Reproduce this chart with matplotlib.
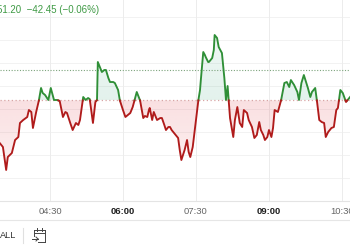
import numpy as np
import matplotlib
matplotlib.use('Agg')
import matplotlib.pyplot as plt
from matplotlib.path import Path
from matplotlib.lines import Line2D

plt.rcParams['font.family'] = ['Liberation Sans', 'DejaVu Sans']

# 数据（分钟数，自 00:00 起）
times = [208, 212, 216, 218, 223, 227, 231, 233, 237, 242, 244, 247, 249, 253, 256, 259, 261, 264,
         268, 271, 275, 279, 282, 286, 289, 291, 295, 298, 302, 305, 307, 311, 314, 317, 319, 323,
         326, 328, 329, 332, 334, 337, 339, 342, 344, 348, 350, 354, 356, 360, 363, 366, 369, 372,
         377, 381, 385, 387, 390, 392, 393, 396, 398, 402, 406, 408, 411, 413, 416, 418, 420, 423,
         425, 428, 430, 432, 434, 436, 439, 441, 443, 446, 450, 453, 455, 456, 459, 461, 462, 465,
         466, 470, 472, 473, 476, 478, 482, 485, 487, 489, 492, 496, 498, 501, 504, 507, 509, 513,
         515, 519, 522, 525, 528, 530, 533, 535, 538, 540, 543, 545, 547, 551, 555, 559, 562, 565,
         567, 571, 575, 577, 580, 583, 586, 588, 591, 593, 597, 599, 602, 605, 608, 610, 613, 617,
         620, 623, 625, 628, 631, 635, 637, 640]
prices = [70701.1, 70692.4, 70642.4, 70670.6, 70679.3, 70707.6, 70714.1, 70744.6, 70751.1, 70757.6,
          70772.8, 70768.5, 70733.7, 70768.5, 70790.2, 70820.7, 70809.8, 70805.4, 70794.6, 70820.7,
          70794.6, 70794.6, 70792.4, 70757.6, 70768.5, 70766.3, 70744.6, 70729.3, 70744.6, 70740.2,
          70751.1, 70801.1, 70794.6, 70798.9, 70796.7, 70744.6, 70790.2, 70794.6, 70877.2, 70864.1,
          70855.4, 70859.8, 70859.8, 70842.4, 70833.7, 70833.7, 70831.5, 70816.3, 70794.6, 70772.8,
          70757.6, 70762.0, 70766.3, 70779.3, 70812.0, 70794.6, 70755.4, 70759.8, 70757.6, 70772.8,
          70777.2, 70751.1, 70768.5, 70751.1, 70755.4, 70755.4, 70740.2, 70729.3, 70735.9, 70735.9,
          70729.3, 70722.8, 70718.5, 70712.0, 70685.9, 70664.1, 70675.0, 70685.9, 70707.6, 70681.5,
          70670.6, 70692.4, 70751.1, 70794.6, 70816.3, 70838.0, 70898.9, 70892.4, 70888.0, 70877.2,
          70877.2, 70885.9, 70903.3, 70935.9, 70929.4, 70909.8, 70896.7, 70842.4, 70794.6, 70825.0,
          70755.4, 70714.1, 70751.1, 70779.3, 70744.6, 70735.9, 70772.8, 70766.3, 70751.1, 70735.9,
          70712.0, 70718.5, 70746.7, 70729.3, 70718.5, 70707.6, 70714.1, 70729.3, 70714.1, 70733.7,
          70772.8, 70768.5, 70794.6, 70831.5, 70833.7, 70822.8, 70838.0, 70827.2, 70812.0, 70794.6,
          70831.5, 70848.9, 70831.5, 70820.7, 70801.1, 70812.0, 70820.7, 70794.6, 70751.1, 70746.7,
          70744.6, 70714.1, 70725.0, 70733.7, 70735.9, 70772.8, 70777.2, 70816.3, 70809.8, 70790.2,
          70794.6, 70801.1]
prev_close = 70793.65
open_level = 70860.0
tick_pos = [270, 360, 450, 540, 630]
tick_labels = ['04:30', '06:00', '07:30', '09:00', '10:30']
tick_bold = [False, True, False, True, False]
header = '51.20  \u221242.45 (\u22120.06%)'

GREEN = '#2f8f37'
RED = '#b01b1b'

W, H = 350, 250
fig = plt.figure(figsize=(W / 100, H / 100), dpi=100)
fig.patch.set_facecolor('white')

def px(x, y):
    return x / W, 1 - y / H

ax_bottom = 201
ax = fig.add_axes([0, 1 - ax_bottom / H, 1, ax_bottom / H])
ax.set_xlim(208.4, 639.9)
ax.set_ylim(70575, 71012)

# 网格
for yv in np.arange(70625, 71012, 50):
    ax.axhline(yv, color='#f2f2f2', lw=0.7, zorder=0)
for xv in tick_pos:
    ax.axvline(xv, color='#ececec', lw=0.7, zorder=0)

# 在穿越基准线处插值，使两段颜色衔接
t = np.array(times, float)
v = np.array(prices, float)
tt, vv = [t[0]], [v[0]]
for i in range(1, len(t)):
    a, b = v[i - 1] - prev_close, v[i] - prev_close
    if a * b < 0:
        f = a / (a - b)
        tt.append(t[i - 1] + f * (t[i] - t[i - 1]))
        vv.append(prev_close)
    tt.append(t[i])
    vv.append(v[i])
tt = np.array(tt)
vv = np.array(vv)

def gradient_fill(mask, color, a_near, a_far, y_far):
    coll = ax.fill_between(tt, vv, prev_close, where=mask, interpolate=True,
                           facecolor='none', edgecolor='none')
    paths = coll.get_paths()
    if not paths:
        return
    comp = Path.make_compound_path(*paths)
    rgb = matplotlib.colors.to_rgb(color)
    n = 200
    img = np.zeros((n, 1, 4))
    img[:, 0, :3] = rgb
    img[:, 0, 3] = np.linspace(a_near, a_far, n)
    im = ax.imshow(img, extent=[tt[0], tt[-1], prev_close, y_far],
                   origin='lower', aspect='auto', zorder=1, interpolation='bilinear')
    im.set_clip_path(comp, ax.transData)

gradient_fill(vv >= prev_close, '#4fae8a', 0.16, 0.05, 71012)
gradient_fill(vv <= prev_close, '#e0454f', 0.17, 0.04, 70575)
ax.set_xlim(208.4, 639.9)
ax.set_ylim(70575, 71012)

# 基准线
ax.axhline(prev_close, color='#d8a5a5', lw=0.9, ls=(0, (1, 2)), zorder=2)
ax.axhline(open_level, color='#7da47d', lw=0.8, ls=(0, (1, 1.5)), zorder=2)

green = np.where(vv >= prev_close, vv, np.nan)
red = np.where(vv <= prev_close, vv, np.nan)
ax.plot(tt, green, color=GREEN, lw=1.35, zorder=3, solid_joinstyle='round')
ax.plot(tt, red, color=RED, lw=1.35, zorder=3, solid_joinstyle='round')

# 坐标轴
for s in ['top', 'left', 'right']:
    ax.spines[s].set_visible(False)
ax.spines['bottom'].set_color('#e4e4e4')
ax.spines['bottom'].set_linewidth(0.8)
ax.set_yticks([])
ax.set_xticks(tick_pos)
ax.set_xticklabels(tick_labels)
ax.tick_params(axis='x', length=0, pad=4, labelsize=6.8)
for lab, b in zip(ax.get_xticklabels(), tick_bold):
    lab.set_fontweight('bold' if b else 'normal')
    lab.set_color('#1e1e1e' if b else '#666666')

# 标题数值
x0, y0 = px(-3, 10)
fig.text(x0, y0, header, color='#3f9a45', fontsize=7.0, va='center', ha='left')

# 底部工具栏
fig.add_artist(Line2D([0, 1], [px(0, 220)[1]] * 2, color='#e6e6e6', lw=0.8))
fig.text(*px(0, 235), 'ALL', color='#333333', fontsize=6.6, va='center', ha='left')
fig.add_artist(Line2D([px(23, 0)[0]] * 2, [px(0, 228)[1], px(0, 243)[1]], color='#e0e0e0', lw=0.8))
ic = '#444444'
def seg(x1, y1, x2, y2):
    a, b = px(x1, y1)
    c, d = px(x2, y2)
    fig.add_artist(Line2D([a, c], [b, d], color=ic, lw=0.7))
seg(34, 230, 45, 230)
seg(34, 230, 34, 236)
seg(45, 230, 45, 242)
seg(38, 242, 45, 242)
seg(34, 233, 45, 233)
seg(37, 228, 37, 231)
seg(42, 228, 42, 231)
seg(32, 239, 38, 239)
seg(36, 237, 38, 239)
seg(36, 241, 38, 239)

fig.savefig('out.png', dpi=100, facecolor='white')
